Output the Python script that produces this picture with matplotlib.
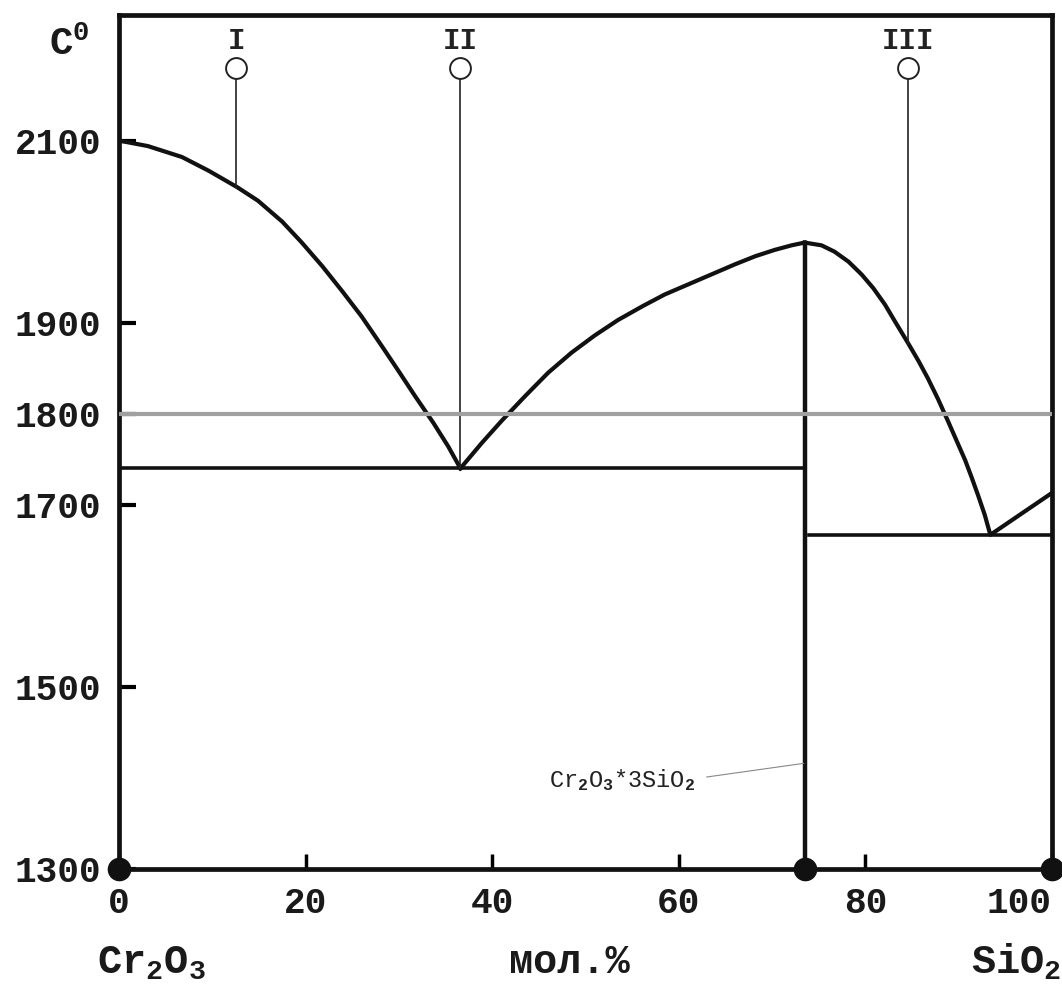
import matplotlib
matplotlib.use('Agg')
import matplotlib.pyplot as plt

# Диаграмма состояния Cr2O3 - SiO2
plt.rcParams['font.family'] = ['Liberation Mono', 'DejaVu Sans Mono']
plt.rcParams['mathtext.fontset'] = 'custom'
plt.rcParams['mathtext.rm'] = 'Liberation Mono:bold'
plt.rcParams['mathtext.it'] = 'Liberation Mono'
plt.rcParams['mathtext.default'] = 'rm'

# ликвидус со стороны Cr2O3
liq1_x = [0, 3.1, 6.75, 9.6, 12.65, 14.9, 17.5, 19.6, 21.8, 23.9, 26.0, 28.2, 29.9,
          31.7, 33.7, 35.3, 36.6]
liq1_t = [2100, 2094, 2082, 2067, 2049, 2034, 2011, 1988, 1962, 1935, 1907, 1874, 1848,
          1820, 1790, 1764, 1740]
# ликвидус соединения Cr2O3*3SiO2 (левая ветвь)
liq2_x = [36.6, 38.9, 41.0, 43.5, 46.0, 48.5, 51.0, 53.5, 56.1, 58.5, 61.0, 63.5, 66.0,
          68.2, 70.3, 72.1, 73.5]
liq2_t = [1740, 1768, 1792, 1819, 1845, 1867, 1886, 1903, 1918, 1931, 1942, 1953, 1964,
          1973, 1980, 1985, 1988]
# правая ветвь и ликвидус SiO2
liq3_x = [73.5, 75.3, 76.7, 78.2, 79.6, 80.85, 82.1, 83.2, 84.5, 85.7, 86.7, 87.8, 88.9,
          89.8, 90.7, 91.4, 92.1, 92.8, 93.4, 100]
liq3_t = [1988, 1985, 1978, 1967, 1953, 1938, 1920, 1901, 1879, 1858, 1839, 1816, 1791,
          1770, 1749, 1730, 1710, 1689, 1667, 1713]

compound_x = 73.5
eut1_t = 1740
eut2_t = 1667
gray_t = 1800

# точки I, II, III
mark_x = [12.6, 36.6, 84.6]
mark_low = [2049, 1740, 1877]
mark_labels = ['I', 'II', 'III']
mark_top = 2180

xticks = [0, 20, 40, 60, 80, 100]
yticks = [1300, 1500, 1700, 1800, 1900, 2100]

fig = plt.figure(figsize=(10.62, 9.85), dpi=100)
ax = fig.add_axes([0.112, 0.1178, 0.8785, 0.867])

for xs, ts in [(liq1_x, liq1_t), (liq2_x, liq2_t), (liq3_x, liq3_t)]:
    ax.plot(xs, ts, color='#111111', lw=3, solid_joinstyle='round')

ax.plot([0, compound_x], [eut1_t, eut1_t], color='#111111', lw=2.6)
ax.plot([compound_x + 0.5, 100], [eut2_t, eut2_t], color='#111111', lw=2.6)
ax.plot([compound_x, compound_x], [1300, 1988], color='#111111', lw=3.2)

for x, lo, lab in zip(mark_x, mark_low, mark_labels):
    ax.plot([x, x], [lo, mark_top - 11], color='#222222', lw=1.2)
    ax.plot([x], [mark_top], marker='o', ms=15, mfc='white', mec='#222222', mew=1.4)
    ax.text(x, mark_top + 14, lab, ha='center', va='bottom', fontsize=21,
            fontweight='bold', color='#222222')

ax.plot([0, 100], [gray_t, gray_t], color='#a0a0a0', lw=3, zorder=5)

ax.plot([0, compound_x, 100], [1300, 1300, 1300], 'o', color='#111111', ms=16,
        clip_on=False, zorder=10)

# подпись соединения
ax.text(53.9, 1398, r'Cr$_{\mathit{2}}$O$_{\mathit{3}}$*3SiO$_{\mathit{2}}$', ha='center',
        va='center', fontsize=17, color='#222222')
ax.plot([63.0, 73.4], [1401, 1416], color='#888888', lw=0.8)

ax.set_xlim(0, 100)
ax.set_ylim(1300, 2238)
ax.set_xticks(xticks)
ax.set_yticks(yticks)
ax.set_xticklabels([str(v) for v in xticks])
ax.set_yticklabels([str(v) for v in yticks])
for lbl in ax.get_xticklabels() + ax.get_yticklabels():
    lbl.set_fontweight('bold')
    lbl.set_fontsize(26)
    lbl.set_color('#1a1a1a')
ax.get_xticklabels()[-1].set_ha('right')
ax.tick_params(axis='y', direction='in', length=12, width=3, pad=13)
ax.tick_params(axis='x', direction='in', length=11, width=2.5, pad=12)
for s in ax.spines.values():
    s.set_linewidth(3.4)
    s.set_color('#111111')

ax.text(-5.3, 2205, 'C$^0$', ha='center', va='center', fontsize=28,
        fontweight='bold', color='#1a1a1a', clip_on=False)
ax.text(3.5, 1197, 'Cr$_2$O$_3$', ha='center', va='center', fontsize=29,
        fontweight='bold', color='#1a1a1a', clip_on=False)
ax.text(48.3, 1198, 'мол.%', ha='center', va='center', fontsize=29,
        fontweight='bold', color='#1a1a1a', clip_on=False)
ax.text(101.0, 1198, 'SiO$_2$', ha='right', va='center', fontsize=29,
        fontweight='bold', color='#1a1a1a', clip_on=False)

fig.savefig('out.png', dpi=100)
